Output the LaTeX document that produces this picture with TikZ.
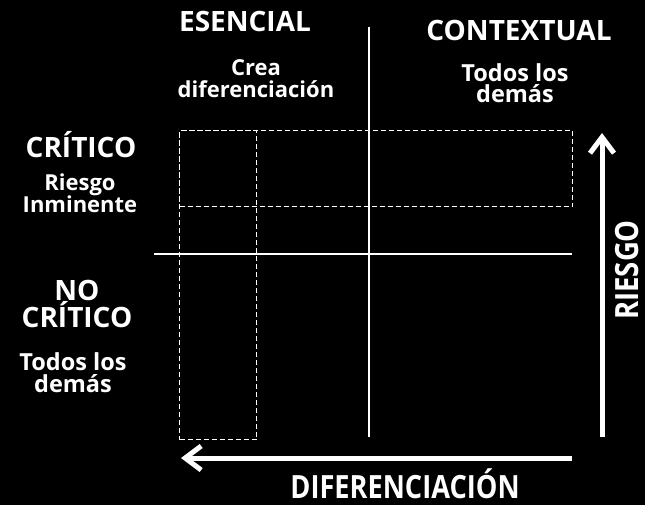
\documentclass[tikz,border=0pt]{standalone}
\usepackage{fontspec}
\usepackage{graphicx}
\setmainfont{Open Sans}
\usetikzlibrary{arrows.meta}
\tikzset{
  big/.style={font={\bfseries\fontsize{28}{27}\selectfont}, text=white, inner sep=0pt, align=center, anchor=base},
  small/.style={font={\bfseries\fontsize{22}{22}\selectfont}, text=white, inner sep=0pt, align=center, anchor=base},
  smallb/.style={font={\bfseries\fontsize{23.5}{21.5}\selectfont}, text=white, inner sep=0pt, align=center, anchor=base},
  axis/.style={draw=white, line width=2pt},
  zone/.style={draw=white, line width=1.3pt, dash pattern=on 5pt off 3pt},
  bigarrow/.style={draw=white, line width=5pt, -{Straight Barb[length=16pt, width=24pt, line width=5pt]}}
}
\begin{document}
\begin{tikzpicture}[x=1pt,y=-1pt]
\fill[black] (0,0) rectangle (645,505);
\useasboundingbox (0,0) rectangle (645,505);
% axes
\coordinate (vt) at (369,27);
\coordinate (vb) at (369,437);
\coordinate (hl) at (154,254);
\coordinate (hr) at (572,254);
\draw[axis] (vt) -- (vb);
\draw[axis] (hl) -- (hr);
% dashed zones
\node[zone, minimum width=393pt, minimum height=76pt, anchor=north west, inner sep=0pt] (zh) at (179,130) {};
\node[zone, minimum width=77pt, minimum height=309pt, anchor=north west, inner sep=0pt] (zv) at (179,130) {};
% arrows
\coordinate (ub) at (602,437);
\coordinate (ut) at (602,133);
\coordinate (lr) at (572,458);
\coordinate (ll) at (181,458);
\draw[bigarrow] (ub) -- (ut);
\draw[bigarrow] (lr) -- (ll);
% texts
\node[big] (esencial) at (245,32) {ESENCIAL};
\node[small] (crea) at (256,98) {Crea\\diferenciación};
\node[big] (contextual) at (519,41) {CONTEXTUAL};
\node[smallb] (todos1) at (515,103) {Todos los\\demás};
\node[big] (critico) at (81,158) {CRÍTICO};
\node[small] (riesgo1) at (80,213) {Riesgo\\Inminente};
\node[big] (nocritico) at (77,327) {NO\\CRÍTICO};
\node[smallb] (todos2) at (73,392) {Todos los\\demás};
\node[big, font={\bfseries\fontsize{32}{32}\selectfont}, text depth=0pt] (dif) at (405,498) {\scalebox{0.85}[1]{DIFERENCIACIÓN}};
\node[big, font={\bfseries\fontsize{32}{32}\selectfont}, rotate=90] (riesgo) at (638,270) {\scalebox{0.86}[1]{RIESGO}};
\end{tikzpicture}
\end{document}
